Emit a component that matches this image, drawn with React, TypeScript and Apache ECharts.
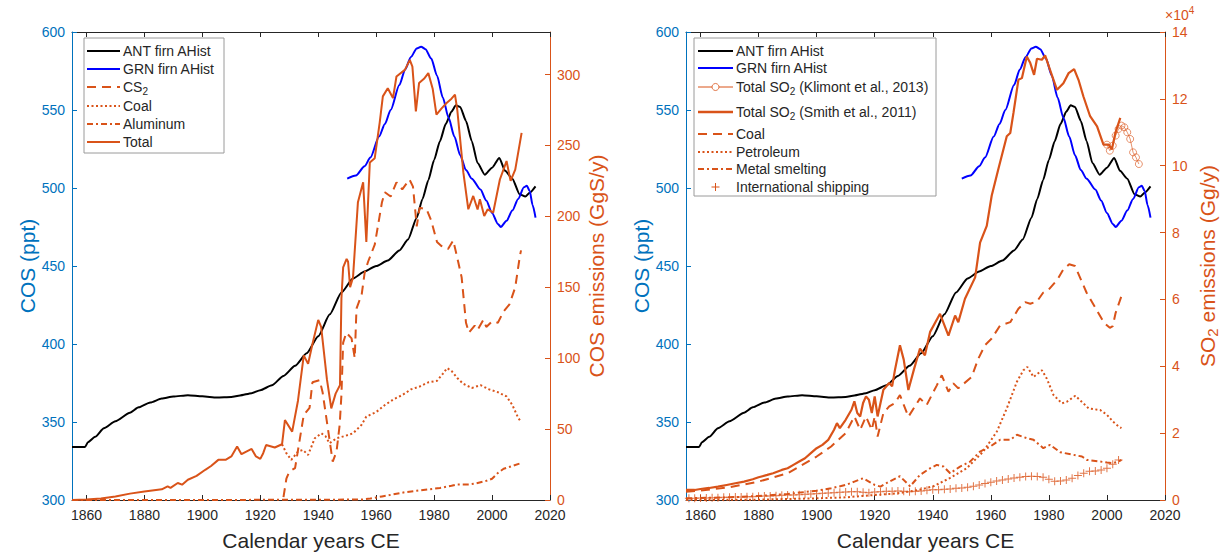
import React, { useEffect, useRef } from "react";
import * as echarts from "echarts";

const FONT = '"Liberation Sans", Arial, Helvetica, sans-serif';
const BLUE_AX = "#0072BD";
const ORANGE = "#D95319";
const DARK = "#262626";

// ---------- tick labels ----------
const xTickYears = [1860, 1880, 1900, 1920, 1940, 1960, 1980, 2000, 2020];
const cosTicks = [300, 350, 400, 450, 500, 550, 600];
const emisTicks = [0, 50, 100, 150, 200, 250, 300];
const so2Ticks = [0, 2, 4, 6, 8, 10, 12, 14];

// ---------- COS firn records (ppt) ----------
const antYears = [1855, 1859.5, 1860.5, 1863, 1866, 1870, 1875, 1878, 1882, 1886, 1890, 1895, 1900, 1905, 1910, 1913, 1917, 1920, 1924, 1928, 1932, 1936, 1940, 1944, 1948, 1952, 1956, 1960, 1964, 1968, 1971, 1974, 1976, 1978, 1980, 1982, 1984, 1986, 1987.5, 1989, 1991, 1993, 1995, 1997.5, 2000, 2002.5, 2004.5, 2007, 2009.5, 2011.5, 2013, 2015];
const antVals = [334, 334, 337, 340.5, 346, 350.5, 356, 359.4, 362.5, 365, 366.3, 367.2, 366.5, 365.7, 366, 367, 368.5, 370.4, 373.5, 379.5, 386, 394, 405, 419, 433, 442, 446.5, 450, 453.5, 460, 467, 481, 493, 505, 518, 530, 541, 549, 553, 552, 543, 530, 516, 508.5, 513, 519.3, 511, 506, 496, 494.5, 497, 501];

const grnYears = [1950, 1953, 1956, 1958, 1961, 1963, 1965, 1968, 1970, 1972, 1974, 1975.5, 1977, 1979, 1981, 1983, 1985, 1987, 1989, 1991, 1993, 1996, 1998, 2000, 2002, 2003, 2005, 2007, 2009, 2011, 2012, 2013, 2014, 2015];
const grnVals = [506, 508, 514, 519.5, 533, 541, 550, 566, 576, 584, 589.5, 590.6, 589, 583, 572, 558, 545, 533, 521, 511.5, 506, 499, 492, 484, 477, 475, 479, 485.5, 493, 500.5, 501.5, 498, 489, 481];

// ---------- left panel: COS emissions (GgS/y) ----------
const totYears = [1855, 1860, 1865, 1870, 1875, 1880, 1886, 1888, 1889, 1891.5, 1893, 1895, 1898, 1901, 1903, 1905.5, 1908, 1910, 1912, 1913.5, 1915, 1917, 1918.5, 1920, 1921, 1922, 1925, 1927.5, 1928.5, 1931, 1933, 1935, 1936.5, 1938, 1940, 1941, 1943, 1944.5, 1946, 1947.5, 1948, 1948.6, 1949.8, 1950.3, 1951, 1952, 1953.7, 1955.5, 1956.6, 1957.8, 1959.5, 1961.2, 1962.3, 1964, 1965.8, 1967, 1969.9, 1971.6, 1972.5, 1973.7, 1974.8, 1976.5, 1978, 1979.5, 1980.8, 1982.5, 1984.3, 1986, 1987.2, 1988, 1990.1, 1991.8, 1993.5, 1995, 1995.8, 1997.3, 1998.5, 2000.4, 2002.7, 2005, 2006.4, 2008, 2010.2];
const totVals = [0, 0.3, 1, 2.5, 4.5, 6, 7.5, 9.6, 8.5, 12, 10.8, 14.3, 17, 21.3, 24, 28.3, 28.3, 30.7, 37.7, 32.3, 34, 36, 30.7, 29, 33, 38.8, 37, 39.3, 56.4, 48.2, 70, 102, 96, 110, 127, 122, 85, 64.6, 75, 81, 142, 164, 170, 168, 150, 157, 210, 224, 182, 238, 241, 266, 284.6, 290.4, 283.4, 298.6, 303.3, 310.3, 305.6, 274, 294, 297, 301, 290, 271.7, 276, 279.9, 283, 285.8, 275, 230.8, 205, 214.4, 204.8, 212, 200.3, 205, 202.7, 226, 239, 225, 233, 258.9];

const cs2Years = [1928, 1929, 1930, 1932, 1933, 1935, 1937, 1938, 1940.5, 1941.5, 1943.5, 1945, 1946.3, 1947.4, 1948, 1948.6, 1949.7, 1951.5, 1952.6, 1953.2, 1955, 1956, 1957.2, 1959.5, 1962, 1963, 1965, 1967, 1969, 1971.5, 1972.7, 1974, 1975, 1977.4, 1979, 1981, 1982.6, 1984.8, 1986.6, 1988.3, 1989.5, 1991, 1992, 1994, 1995, 1997, 1998, 2000, 2002, 2004, 2006, 2008, 2009.6, 2010];
const cs2Vals = [2, 15, 20, 22.5, 35, 60, 65, 83, 84.5, 76, 48, 27, 34, 53, 74, 111, 118, 114, 100, 135, 145, 160, 168, 180, 210, 217, 214, 224, 219, 226, 221, 193, 206, 205, 197, 182, 179, 177, 183, 168, 157, 125, 118, 123, 120, 127, 122, 126, 125, 133, 138, 150, 172, 176];

const coalYears = [1927.5, 1929, 1930.7, 1933, 1934.7, 1936.5, 1938.8, 1941.1, 1942.5, 1943.9, 1946.3, 1949, 1952, 1954.9, 1956.6, 1960, 1963, 1966, 1969, 1972, 1975, 1978, 1981, 1983, 1984.5, 1986, 1988, 1990, 1993, 1996, 1999, 2002, 2005, 2007, 2009, 2010];
const coalVals = [39.3, 33, 28.3, 34.2, 35.3, 31.8, 43.5, 47, 45, 40, 43.5, 45, 47, 52.9, 58.8, 62, 67, 71, 74, 78, 80, 83, 84, 89, 93, 91, 86, 82, 79, 81, 78, 76, 73, 67, 58, 55];

const aluYears = [1855, 1900, 1955, 1958, 1962, 1966, 1970, 1974, 1978, 1982, 1986, 1988, 1992, 1994, 1998, 2000, 2002, 2004, 2007, 2010];
const aluVals = [0, 0, 0.3, 1, 2.5, 4, 5.5, 6.5, 7.5, 8.5, 10, 11, 11, 11.5, 13.5, 15, 19, 22, 24, 26];

// ---------- right panel: SO2 emissions (x10^4 Gg/y) ----------
const klimYears = [2000, 2001, 2002, 2003, 2004, 2005, 2006, 2007, 2008, 2009, 2010, 2011];
const klimVals = [10.63, 10.45, 10.6, 10.9, 11.1, 11.2, 11.15, 11.0, 10.8, 10.4, 10.25, 10.05];

const smithYears = [1855, 1858, 1860, 1863, 1866, 1869, 1872, 1875, 1878, 1880, 1883, 1885, 1888, 1890, 1892, 1894, 1896, 1898, 1900, 1902, 1904, 1906, 1907, 1908, 1910, 1912, 1913, 1914, 1915, 1916, 1917, 1918, 1919, 1920, 1921, 1922, 1923, 1925, 1926, 1927, 1928.7, 1930, 1931.6, 1933.5, 1935.6, 1937.3, 1939.1, 1942.5, 1945.4, 1947.7, 1948.8, 1951.1, 1954.6, 1956.3, 1958.6, 1960.3, 1962.6, 1965.5, 1966.7, 1967.8, 1969.5, 1970.7, 1972.4, 1973.6, 1974.9, 1975.9, 1977.6, 1978.7, 1980.4, 1982.8, 1985, 1986.8, 1988.7, 1990.2, 1991.9, 1994.2, 1996.6, 1998.8, 2000.6, 2001.7, 2002.9, 2004.6];
const smithVals = [0.3, 0.3, 0.33, 0.36, 0.4, 0.45, 0.5, 0.55, 0.62, 0.68, 0.75, 0.8, 0.9, 0.95, 1.05, 1.15, 1.25, 1.4, 1.55, 1.65, 1.8, 2.1, 2.3, 2.15, 2.4, 2.7, 2.95, 2.6, 2.5, 2.9, 3.1, 3.0, 2.6, 3.1, 2.5, 2.9, 3.3, 3.5, 3.4, 3.9, 4.63, 4.2, 3.29, 3.9, 4.53, 4.33, 5.03, 5.57, 4.92, 5.52, 5.32, 6.02, 6.66, 7.7, 8.2, 9.1, 9.9, 10.88, 10.98, 11.58, 12.57, 12.62, 13.27, 13.07, 12.72, 13.2, 13.17, 13.3, 12.87, 12.27, 12.47, 12.77, 12.89, 12.57, 12.07, 11.48, 11.18, 10.63, 10.63, 10.49, 10.98, 11.43];

const rCoalYears = [1855, 1860, 1870, 1880, 1890, 1900, 1905, 1910, 1913, 1915, 1917, 1919, 1920, 1921, 1923, 1925, 1927, 1928.7, 1931.6, 1935.6, 1937.9, 1941.4, 1943.1, 1945.4, 1947.1, 1948.8, 1953.4, 1955.7, 1958, 1960.3, 1963.2, 1966.7, 1969.5, 1971.8, 1973.6, 1976, 1978, 1980, 1983, 1985, 1987, 1989, 1991, 1993, 1995, 1997, 1999, 2001, 2002, 2003, 2005];
const rCoalVals = [0.25, 0.28, 0.38, 0.55, 0.8, 1.3, 1.6, 2.0, 2.5, 2.1, 2.5, 2.1, 2.5, 1.9, 2.6, 2.8, 2.9, 3.14, 2.49, 3.04, 2.84, 3.43, 3.73, 3.24, 3.49, 3.34, 3.68, 4.23, 4.63, 4.83, 5.22, 5.32, 5.72, 5.92, 5.87, 5.95, 6.2, 6.3, 6.6, 6.9, 7.05, 7.0, 6.6, 6.2, 5.9, 5.6, 5.3, 5.15, 5.2, 5.6, 6.1];

const petYears = [1855, 1880, 1900, 1910, 1920, 1925, 1928.7, 1935, 1940.2, 1946, 1951.7, 1957.4, 1962.1, 1965.5, 1969, 1971.2, 1972.6, 1974.7, 1977.6, 1979.3, 1981.6, 1984.5, 1986.2, 1989.1, 1991.9, 1993.7, 1997.7, 2000, 2002, 2004, 2005];
const petVals = [0, 0.01, 0.05, 0.08, 0.15, 0.18, 0.21, 0.3, 0.41, 0.66, 0.95, 1.45, 2.05, 2.74, 3.54, 3.88, 3.98, 3.68, 3.88, 3.63, 3.14, 2.89, 2.94, 3.12, 2.89, 2.74, 2.69, 2.55, 2.35, 2.2, 2.15];

const metYears = [1855, 1870, 1880, 1890, 1900, 1905, 1910, 1913, 1916, 1918, 1920, 1922, 1925, 1928.7, 1932.2, 1935.6, 1939.1, 1941.4, 1943.7, 1946, 1949.4, 1952.9, 1956.3, 1959.8, 1963.2, 1966.7, 1969, 1972.4, 1974.7, 1978.1, 1980.4, 1983.9, 1988.5, 1991.4, 1993.1, 1997.7, 2000, 2002, 2004, 2005];
const metVals = [0.05, 0.08, 0.12, 0.18, 0.28, 0.35, 0.45, 0.55, 0.65, 0.55, 0.45, 0.4, 0.55, 0.71, 0.41, 0.75, 0.95, 1.05, 1.0, 0.8, 1.0, 1.15, 1.45, 1.6, 1.8, 1.8, 1.95, 1.85, 1.8, 1.55, 1.65, 1.43, 1.35, 1.3, 1.2, 1.15, 1.12, 1.1, 1.15, 1.2];

const shipYears = [1856, 1858, 1860, 1862, 1864, 1866, 1868, 1870, 1872, 1874, 1876, 1878, 1880, 1882, 1884, 1886, 1888, 1890, 1892, 1894, 1896, 1898, 1900, 1902, 1904, 1906, 1908, 1910, 1912, 1914, 1916, 1918, 1920, 1922, 1924, 1926, 1928, 1930, 1932, 1934, 1936, 1938, 1940, 1942, 1944, 1946, 1948, 1950, 1952, 1954, 1956, 1958, 1960, 1962, 1964, 1966, 1968, 1970, 1972, 1974, 1976, 1978, 1980, 1982, 1984, 1986, 1988, 1990, 1992, 1994, 1996, 1998, 2000, 2002, 2004];
const shipVals = [0.05, 0.05, 0.06, 0.06, 0.07, 0.07, 0.08, 0.08, 0.09, 0.09, 0.1, 0.1, 0.11, 0.12, 0.12, 0.13, 0.14, 0.15, 0.15, 0.16, 0.17, 0.18, 0.19, 0.2, 0.21, 0.22, 0.23, 0.24, 0.25, 0.25, 0.23, 0.22, 0.24, 0.25, 0.26, 0.26, 0.27, 0.26, 0.25, 0.26, 0.27, 0.29, 0.31, 0.31, 0.32, 0.33, 0.35, 0.36, 0.38, 0.41, 0.45, 0.49, 0.53, 0.57, 0.6, 0.63, 0.66, 0.68, 0.7, 0.71, 0.7, 0.68, 0.62, 0.56, 0.57, 0.6, 0.65, 0.73, 0.8, 0.86, 0.87, 0.9, 0.95, 1.07, 1.2];

const zip = (xs: number[], ys: number[]) => xs.map((x, i) => [x, ys[i]]);

const DASH = [9, 6];
const DOT = [2, 2.5];
const DASHDOT = [6, 3, 2, 3];
const PLUS = "path://M7,0h2v7h7v2h-7v7h-2v-7h-7v-2h7z";

const subRich = {
  a: { fontSize: 14, fontFamily: FONT, fill: DARK, color: DARK },
  s: { fontSize: 10, fontFamily: FONT, fill: DARK, color: DARK, padding: [8, 0, 0, 0] },
};

function bottomX(gridIndex: number) {
  return {
    type: "value", gridIndex, min: 1855, max: 2020, position: "bottom",
    axisLine: { show: true, onZero: false, lineStyle: { color: DARK, width: 1 } },
    axisTick: { show: true, inside: true, length: 5, customValues: xTickYears, lineStyle: { color: DARK } },
    axisLabel: { customValues: xTickYears, formatter: (v: number) => String(v), color: DARK, fontSize: 14, fontFamily: FONT, margin: 8 },
    splitLine: { show: false },
    name: "Calendar years CE", nameLocation: "middle", nameGap: 30,
    nameTextStyle: { fontSize: 21, color: DARK, fontFamily: FONT },
  };
}
function topX(gridIndex: number) {
  return {
    type: "value", gridIndex, min: 1855, max: 2020, position: "top",
    axisLine: { show: true, onZero: false, lineStyle: { color: DARK, width: 1 } },
    axisTick: { show: true, inside: true, length: 5, customValues: xTickYears, lineStyle: { color: DARK } },
    axisLabel: { show: false },
    splitLine: { show: false },
  };
}
function cosY(gridIndex: number) {
  return {
    type: "value", gridIndex, position: "left", min: 300, max: 600, interval: 50,
    axisLine: { show: true, onZero: false, lineStyle: { color: BLUE_AX, width: 1 } },
    axisTick: { show: true, inside: true, length: 5, customValues: cosTicks, lineStyle: { color: BLUE_AX } },
    axisLabel: { customValues: cosTicks, color: BLUE_AX, fontSize: 14, fontFamily: FONT, margin: 7 },
    splitLine: { show: false },
    name: "COS (ppt)", nameLocation: "middle", nameGap: 34, nameRotate: 90,
    nameTextStyle: { fontSize: 21, color: BLUE_AX, fontFamily: FONT },
  };
}

export default function App() {
  const ref = useRef<HTMLDivElement>(null);
  useEffect(() => {
    if (!ref.current) return;
    const chart = echarts.init(ref.current, undefined, { renderer: "svg" });

    const line = (name: string, xi: number, yi: number, data: number[][], color: string, width: number, dash?: number[], z = 3, smooth = 0) => ({
      name, type: "line", xAxisIndex: xi, yAxisIndex: yi, data, showSymbol: false, symbol: "none",
      smooth, smoothMonotone: smooth ? "x" : undefined,
      lineStyle: { color, width, type: dash ? dash : "solid", cap: "butt" }, itemStyle: { color },
      z, silent: true,
    });

    // legend helpers
    const legendEls: any[] = [];
    const addBox = (x: number, y: number, w: number, h: number) =>
      legendEls.push({ type: "rect", shape: { x, y, width: w, height: h }, style: { fill: "#fff", stroke: "#9a9a9a", lineWidth: 1 }, z: 50 });
    const addRow = (x: number, y: number, tx: number, text: string, color: string, width: number, dash?: number[], marker?: string) => {
      if (marker === "plus") {
        const cx = (x + tx - 3) / 2;
        legendEls.push({ type: "line", shape: { x1: cx - 4, y1: y, x2: cx + 4, y2: y }, style: { stroke: color, lineWidth: 1 }, z: 51 });
        legendEls.push({ type: "line", shape: { x1: cx, y1: y - 4, x2: cx, y2: y + 4 }, style: { stroke: color, lineWidth: 1 }, z: 51 });
      } else {
        legendEls.push({ type: "line", shape: { x1: x, y1: y, x2: tx - 3, y2: y }, style: { stroke: color, lineWidth: width, lineDash: dash || null }, z: 51 });
        if (marker === "circle") {
          legendEls.push({ type: "circle", shape: { cx: (x + tx - 3) / 2, cy: y, r: 3.5 }, style: { fill: "#fff", stroke: color, lineWidth: 0.8 }, z: 52 });
        }
      }
      legendEls.push({
        type: "text", x: tx, y, z: 52,
        style: { text, rich: subRich, fontSize: 14, fontFamily: FONT, fill: DARK, verticalAlign: "middle", align: "left" },
      });
    };

    addBox(84, 38, 140, 115);
    addRow(87, 51, 123, "{a|ANT firn AHist}", "#000", 2);
    addRow(87, 69, 123, "{a|GRN firn AHist}", "#0000FF", 2);
    addRow(87, 87, 123, "{a|CS}{s|2}", ORANGE, 2, DASH);
    addRow(87, 106, 123, "{a|Coal}", ORANGE, 2, DOT);
    addRow(87, 124, 123, "{a|Aluminum}", ORANGE, 2, DASHDOT);
    addRow(87, 142, 123, "{a|Total}", ORANGE, 2);

    addBox(694, 38, 242, 158);
    addRow(698, 51, 736, "{a|ANT firn AHist}", "#000", 2);
    addRow(698, 68, 736, "{a|GRN firn AHist}", "#0000FF", 2);
    addRow(698, 87, 736, "{a|Total SO}{s|2}{a| (Klimont et al., 2013)}", ORANGE, 1, undefined, "circle");
    addRow(698, 112, 736, "{a|Total SO}{s|2}{a| (Smith et al., 2011)}", ORANGE, 2.5);
    addRow(698, 134, 736, "{a|Coal}", ORANGE, 2, DASH);
    addRow(698, 152, 736, "{a|Petroleum}", ORANGE, 2, DOT);
    addRow(698, 169, 736, "{a|Metal smelting}", ORANGE, 2, DASHDOT);
    addRow(698, 187, 736, "{a|International shipping}", ORANGE, 1, undefined, "plus");

    legendEls.push({
      type: "text", x: 1165, y: 15, z: 52,
      style: {
        text: "{a|×10}{p|4}", verticalAlign: "middle", align: "left",
        rich: {
          a: { fontSize: 14, fontFamily: FONT, fill: ORANGE, color: ORANGE },
          p: { fontSize: 10, fontFamily: FONT, fill: ORANGE, color: ORANGE, padding: [0, 0, 10, 0] },
        },
      },
    });

    const option: any = {
      animation: false,
      backgroundColor: "#ffffff",
      textStyle: { fontFamily: FONT },
      grid: [
        { left: 72, top: 32, width: 478, height: 469, containLabel: false },
        { left: 686, top: 32, width: 479, height: 469, containLabel: false },
      ],
      xAxis: [bottomX(0), topX(0), bottomX(1), topX(1)],
      yAxis: [
        cosY(0),
        {
          type: "value", gridIndex: 0, position: "right", min: 0, max: 330,
          axisLine: { show: true, onZero: false, lineStyle: { color: ORANGE, width: 1 } },
          axisTick: { show: true, inside: true, length: 5, customValues: emisTicks, lineStyle: { color: ORANGE } },
          axisLabel: { customValues: emisTicks, color: ORANGE, fontSize: 14, fontFamily: FONT, margin: 7 },
          splitLine: { show: false },
          name: "COS emissions (GgS/y)", nameLocation: "middle", nameGap: 36, nameRotate: 90,
          nameTextStyle: { fontSize: 21, color: ORANGE, fontFamily: FONT },
        },
        cosY(1),
        {
          type: "value", gridIndex: 1, position: "right", min: 0, max: 14, interval: 2,
          axisLine: { show: true, onZero: false, lineStyle: { color: ORANGE, width: 1 } },
          axisTick: { show: true, inside: true, length: 5, customValues: so2Ticks, lineStyle: { color: ORANGE } },
          axisLabel: { customValues: so2Ticks, color: ORANGE, fontSize: 14, fontFamily: FONT, margin: 7 },
          splitLine: { show: false },
          name: "{a|SO}{s|2}{a| emissions (Gg/y)}", nameLocation: "middle", nameGap: 30, nameRotate: 90,
          nameTextStyle: {
            fontSize: 21, color: ORANGE, fontFamily: FONT,
            rich: {
              a: { fontSize: 21, fontFamily: FONT, color: ORANGE },
              s: { fontSize: 15, fontFamily: FONT, color: ORANGE, padding: [10, 0, 0, 0] },
            },
          },
        },
      ],
      series: [
        line("ANT firn AHist", 0, 0, zip(antYears, antVals), "#000000", 2, undefined, 3, 0.2),
        line("GRN firn AHist", 0, 0, zip(grnYears, grnVals), "#0000FF", 2, undefined, 3, 0.25),
        line("Aluminum", 0, 1, zip(aluYears, aluVals), ORANGE, 2, DASHDOT, 4),
        line("Coal", 0, 1, zip(coalYears, coalVals), ORANGE, 2, DOT, 4),
        line("CS2", 0, 1, zip(cs2Years, cs2Vals), ORANGE, 2, DASH, 4),
        line("Total", 0, 1, zip(totYears, totVals), ORANGE, 2, undefined, 5),

        line("ANT firn AHist R", 2, 2, zip(antYears, antVals), "#000000", 2, undefined, 3, 0.2),
        line("GRN firn AHist R", 2, 2, zip(grnYears, grnVals), "#0000FF", 2, undefined, 3, 0.25),
        {
          name: "International shipping", type: "scatter", xAxisIndex: 2, yAxisIndex: 3,
          data: zip(shipYears, shipVals), symbol: PLUS, symbolSize: 8,
          itemStyle: { color: ORANGE }, z: 4, silent: true,
        },
        line("Metal smelting", 2, 3, zip(metYears, metVals), ORANGE, 2, DASHDOT, 4),
        line("Petroleum", 2, 3, zip(petYears, petVals), ORANGE, 2, DOT, 4),
        line("Coal R", 2, 3, zip(rCoalYears, rCoalVals), ORANGE, 2, DASH, 4),
        line("Total SO2 (Smith et al., 2011)", 2, 3, zip(smithYears, smithVals), ORANGE, 2.2, undefined, 5),
        {
          name: "Total SO2 (Klimont et al., 2013)", type: "line", xAxisIndex: 2, yAxisIndex: 3,
          data: zip(klimYears, klimVals), symbol: "circle", symbolSize: 7, showSymbol: true,
          lineStyle: { color: ORANGE, width: 0.8, opacity: 0.8 },
          itemStyle: { color: "rgba(255,255,255,0)", borderColor: ORANGE, borderWidth: 0.8, opacity: 0.8 },
          z: 6, silent: true,
        },
      ],
      graphic: legendEls,
    };
    chart.setOption(option);
    return () => chart.dispose();
  }, []);
  return <div ref={ref} style={{ position: "fixed", left: 0, top: 0, width: 1223, height: 556, background: "#fff" }} />;
}
